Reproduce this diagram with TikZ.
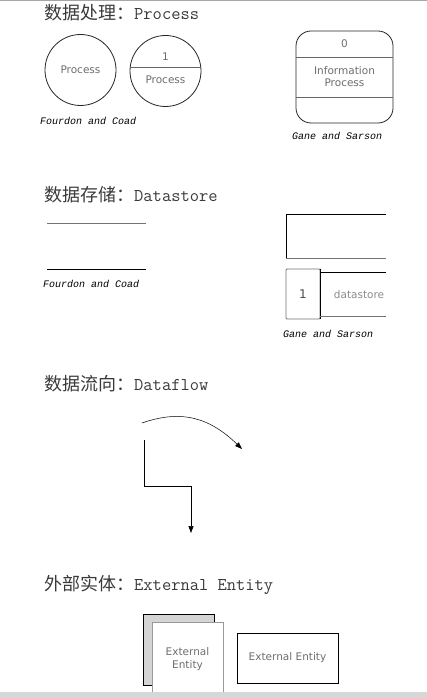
\documentclass[tikz,border=0pt]{standalone}
\usepackage{fontspec}
\setmainfont{DejaVu Sans}
\newfontfamily\cjk{Noto Sans CJK SC}
\newfontfamily\mono{Liberation Mono}
\definecolor{txtgray}{RGB}{110,110,110}
\definecolor{ttlgray}{RGB}{58,58,58}
\definecolor{shadegray}{RGB}{212,212,212}
\definecolor{bandgray}{RGB}{215,215,215}
\usetikzlibrary{arrows.meta,positioning,calc}
\newcommand\sectitle[2]{{\cjk\fontsize{18}{20}\selectfont #1}{\ttfamily\fontsize{18}{20}\selectfont #2}}

\begin{document}
\begin{tikzpicture}[x=1pt, y=-1pt,
    ttl/.style={anchor=base west, inner sep=0pt, text=ttlgray},
    capt/.style={anchor=west, inner sep=0pt, font=\mono\itshape\fontsize{10}{12}\selectfont},
    lbl/.style={text=txtgray, font=\fontsize{10.5}{12.5}\selectfont, align=center, inner sep=0pt},
    proc/.style={circle, draw=black!85, minimum size=71pt, inner sep=0pt, line width=0.8pt},
    box/.style={rectangle, inner sep=0pt, line width=0.8pt},
    flow/.style={-{Triangle[length=7pt,width=5pt]}, line width=0.7pt}
  ]
    \useasboundingbox (0,0) rectangle (427,698);
    \fill[white] (0,0) rectangle (427,698);
    \draw[black!35, line width=1pt] (0,0.5) -- (427,0.5);

    % Process
    \node[ttl] (t1) at (44,19.5) {\sectitle{数据处理：}{Process}};
    \node[proc] (p1) at (80.5,70) {};
    \node[lbl] (p1txt) at (p1.center) {Process};
    \node[proc] (p2) at (165.5,71) {};
    \draw[black!60, line width=0.8pt] (p2.174) -- (p2.6);
    \node[lbl] (p2num) at (165.5,57) {1};
    \node[lbl] (p2txt) at (165.5,80) {Process};
    \node[capt] (c1) at (40,121) {Fourdon and Coad};

    \node[box, draw=black!85, rounded corners=15pt, minimum width=97pt,
          minimum height=92pt] (gs) at (344.5,77) {};
    \draw[black!60, line width=0.8pt] ([yshift=20pt]gs.west) -- ([yshift=20pt]gs.east);
    \draw[black!60, line width=0.8pt] ([yshift=-20pt]gs.west) -- ([yshift=-20pt]gs.east);
    \node[lbl] (gsnum) at (344.5,44) {0};
    \node[lbl, text depth=0pt] (gstxt) at (344.5,76.5) {Information\\Process};
    \node[capt] (c2) at (292,136) {Gane and Sarson};

    % Datastore
    \node[ttl] (t2) at (44,201) {\sectitle{数据存储：}{Datastore}};
    \draw[black!55, line width=0.8pt] (47,223) -- (146,223);
    \draw[black, line width=0.8pt] (47,269) -- (146,269);
    \node[capt] (c3) at (43,284) {Fourdon and Coad};

    \draw[black, line width=0.8pt] (386,214) -- (286,214) -- (286,258);
    \draw[black!55, line width=0.8pt] (286,258) -- (386,258);
    \node[box, draw=black!55, rounded corners=1pt, minimum width=34pt,
          minimum height=50pt] (ds1) at (303,294) {};
    \draw[black, line width=0.8pt] (ds1.north east) -- (ds1.south east);
    \draw[black, line width=0.8pt] (320,272) -- (386,272);
    \draw[black!55, line width=0.8pt] (320,316) -- (386,316);
    \node[lbl, text=black!70, font=\fontsize{12}{14}\selectfont] (ds1num) at (ds1.center) {1};
    \node[lbl, text=black!45] (ds1txt) at (359,295) {datastore};
    \node[capt] (c4) at (283,334) {Gane and Sarson};

    % Dataflow
    \node[ttl] (t3) at (44,390) {\sectitle{数据流向：}{Dataflow}};
    \coordinate (a1) at (142,423);
    \coordinate (a2) at (242,449);
    \draw[flow, line width=0.5pt] (a1) .. controls (182,409) and (210,418) .. (a2);
    \coordinate (b1) at (144,440);
    \coordinate (bm) at (191,486);
    \coordinate (b2) at (191,533);
    \draw[flow] (b1) |- (bm) -- (b2);

    % External Entity
    \node[ttl] (t4) at (44,590.5) {\sectitle{外部实体：}{External Entity}};
    \node[box, draw=black, fill=shadegray, minimum width=71pt,
          minimum height=71pt] (ee0) at (178.5,649.5) {};
    \node[box, draw=black!40, fill=white, minimum width=71pt,
          minimum height=75pt] (ee1) at (187.5,659.5) {};
    \node[lbl, text depth=0pt] (ee1txt) at (187.5,658) {External\\Entity};
    \node[box, draw=black, minimum width=101pt, minimum height=50pt] (ee2) at (287.5,658) {};
    \node[lbl] (ee2txt) at (ee2.center) {External Entity};

    \fill[bandgray] (0,692) rectangle (427,698);
  \end{tikzpicture}
\end{document}
